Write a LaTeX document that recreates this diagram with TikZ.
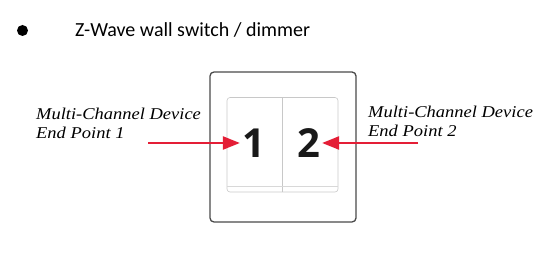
\documentclass[tikz,border=0pt]{standalone}
\usepackage{fontspec}
\setmainfont{Liberation Serif}
\newfontfamily\titlefont{Carlito}
\newfontfamily\numfont{Open Sans}
\newfontfamily\lblfont{Liberation Serif}[UprightFont={* Italic}, FakeStretch=1.12]
\usetikzlibrary{arrows.meta}
\definecolor{arrred}{HTML}{E41E36}
\definecolor{frame}{HTML}{4A4A4A}
\definecolor{paddle}{HTML}{C8C8C8}
\tikzset{
  lbl/.style={font=\lblfont\fontsize{16.5}{19.5}\selectfont, align=left, inner sep=0pt, anchor=base west},
  num/.style={font=\numfont\bfseries\fontsize{40}{40}\selectfont, text=black!90, inner sep=0pt},
  redarrow/.style={draw=arrred, line width=2.2pt, -{Triangle[length=17pt,width=13pt]}},
}
\begin{document}
\begin{tikzpicture}[x=1pt,y=-1pt]
\useasboundingbox (0,0) rectangle (559,253);
\fill (22.5,30.5) circle (5.5);
\node[font=\titlefont\fontsize{20}{22}\selectfont, anchor=base west, inner sep=0pt] (title) at (75,36.5) {Z-Wave wall switch / dimmer};
% outer plate
\draw[frame, line width=1.3pt, rounded corners=4pt] (210,72) rectangle (356,222);
% paddles
\draw[paddle, line width=0.6pt, rounded corners=3pt] (227,97.5) rectangle (338,192);
\draw[paddle, line width=0.6pt] (282.5,97.5) -- (282.5,192);
\draw[paddle!70, line width=0.5pt] (227,186) -- (338,186);
\node[num] (one) at (253.5,143) {1};
\node[num] (two) at (308.5,143) {2};
\coordinate (t1) at (148,143);
\coordinate (t2) at (418,143);
\draw[redarrow] (t1) -- ([xshift=-2pt]one.west);
\draw[redarrow] (t2) -- ([xshift=2pt]two.east);
\node[lbl] (l1) at (36,139) {Multi-Channel Device\\End Point 1};
\node[lbl] (l2) at (368,137) {Multi-Channel Device\\End Point 2};
\end{tikzpicture}
\end{document}
